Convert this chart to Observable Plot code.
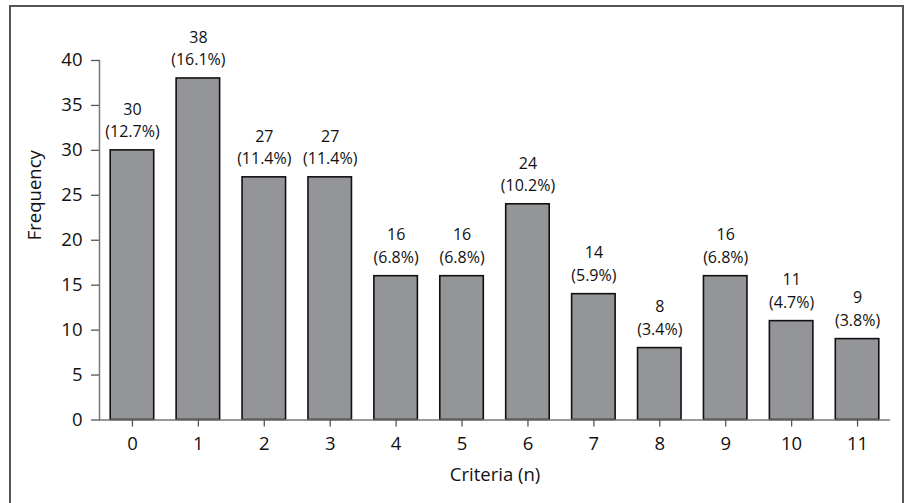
<!DOCTYPE html>
<html>
<head>
<meta charset="utf-8">
<script src="https://cdn.jsdelivr.net/npm/d3@7"></script>
<script src="https://cdn.jsdelivr.net/npm/@observablehq/plot@0.6"></script>
<style>
  html, body { margin: 0; padding: 0; background: #fff; }
  #wrap { position: relative; width: 908px; height: 503px; overflow: hidden; }
  #border { position: absolute; left: 8.5px; top: 4.5px; width: 895px; height: 600px; border: 2px solid #555; box-sizing: border-box; }
  #chart { position: absolute; left: 0; top: 0; }
</style>
</head>
<body>
<div id="wrap"><div id="border"></div><div id="chart"></div></div>
<script>
const criteria = ["0","1","2","3","4","5","6","7","8","9","10","11"];
const counts = [30, 38, 27, 27, 16, 16, 24, 14, 8, 16, 11, 9];
const percents = ["12.7%","16.1%","11.4%","11.4%","6.8%","6.8%","10.2%","5.9%","3.4%","6.8%","4.7%","3.8%"];
const yTicks = [0, 5, 10, 15, 20, 25, 30, 35, 40];

const data = criteria.map((c, i) => ({c, n: counts[i], label: `${counts[i]}\n(${percents[i]})`}));

const plot = Plot.plot({
  width: 908,
  height: 503,
  marginLeft: 99,
  marginRight: 18,
  marginTop: 60,
  marginBottom: 83.5,
  style: {fontFamily: "'Open Sans', sans-serif", fontSize: "16px", color: "#111", background: "transparent"},
  x: {domain: criteria, paddingInner: 0.34, paddingOuter: 0.17, round: false, label: null},
  y: {domain: [0, 40], label: null},
  marks: [
    Plot.barY(data, {x: "c", y: "n", fill: "#939598", stroke: "#111", strokeWidth: 1.6}),
    Plot.text(data, {x: "c", y: "n", text: "label", lineAnchor: "bottom", dy: -13, lineHeight: 1.42, fontSize: 16, fill: "#111"}),
    Plot.frame({anchor: "left", stroke: "#777", strokeWidth: 1.5}),
    Plot.ruleY([0], {stroke: "#777", strokeWidth: 1.5}),
    Plot.axisY({ticks: yTicks, tickSize: 8, tickPadding: 9, fontSize: 18.5, stroke: "#555", strokeWidth: 1.3, fill: "#111", label: null}),
    Plot.axisX({tickSize: 7, tickPadding: 10, fontSize: 18.5, stroke: "#555", strokeWidth: 1.3, fill: "#111", label: null}),
    Plot.text(["Criteria (n)"], {frameAnchor: "bottom", dy: 55, fontSize: 18.5, fill: "#111", lineAnchor: "middle"}),
    Plot.text(["Frequency"], {frameAnchor: "left", dx: -64, rotate: -90, fontSize: 18.5, fill: "#111", lineAnchor: "middle"})
  ]
});
document.getElementById("chart").appendChild(plot);
</script>
</body>
</html>
